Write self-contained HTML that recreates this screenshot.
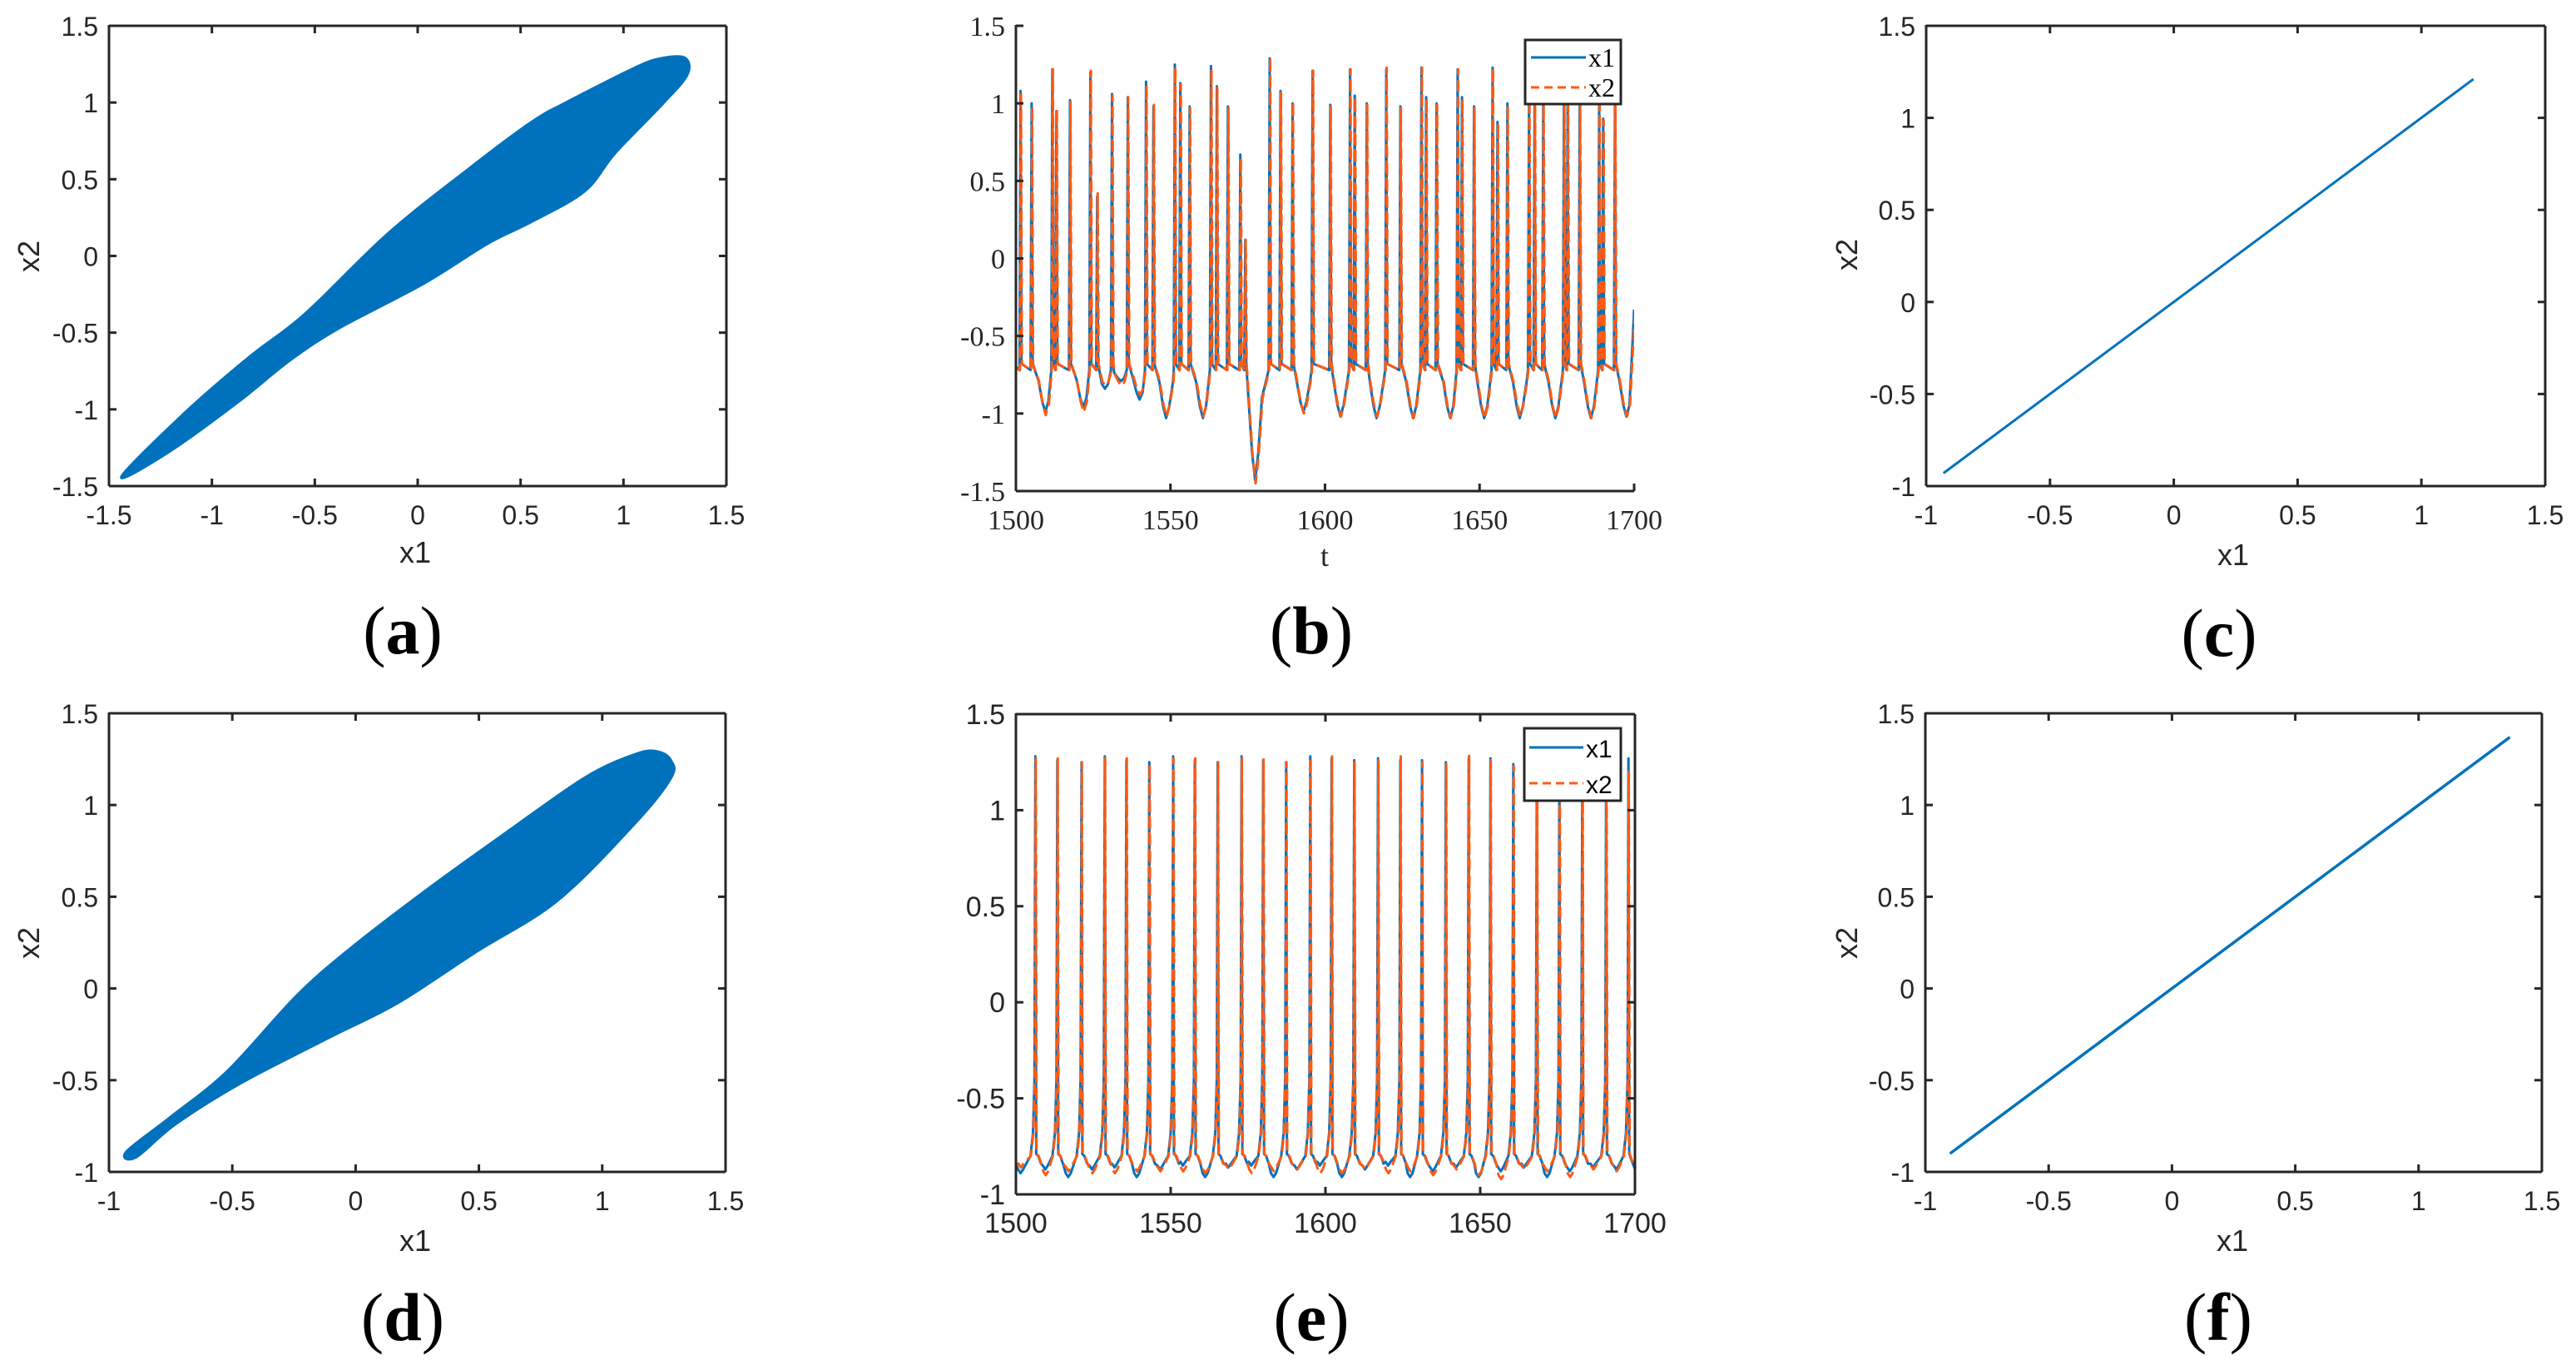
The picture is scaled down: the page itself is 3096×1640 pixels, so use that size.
<!DOCTYPE html>
<html><head><meta charset="utf-8"><style>
html,body{margin:0;padding:0;background:#fff;}
svg{display:block;}
.sans{font-family:"Liberation Sans",Arial,sans-serif;}
.serif{font-family:"Liberation Serif","Times New Roman",serif;}
</style></head><body>
<svg id="fig" xmlns="http://www.w3.org/2000/svg" width="3096" height="1640" viewBox="0 0 3096 1640">
<rect x="0" y="0" width="3096" height="1640" fill="#fff"/>
</svg>
<script>
// ---------- data ----------
const envA_x1 = [-1.44,-1.13,-0.82,-0.55,-0.15,0.24,0.55,0.72,1.06,1.19,1.30,1.31,1.19,0.96,0.81,0.55,0.34,0.03,-0.38,-0.62,-0.87,-1.20];
const envA_x2 = [-1.44,-1.02,-0.66,-0.38,0.14,0.56,0.87,1.00,1.23,1.29,1.29,1.18,0.99,0.67,0.42,0.22,0.08,-0.18,-0.47,-0.68,-0.95,-1.27];
const envD_x1 = [-0.93,-0.75,-0.52,-0.24,-0.02,0.28,0.60,0.93,1.14,1.23,1.28,1.28,1.14,0.82,0.49,0.17,-0.11,-0.47,-0.73,-0.89];
const envD_x2 = [-0.89,-0.70,-0.45,-0.04,0.22,0.53,0.84,1.15,1.28,1.29,1.24,1.15,0.91,0.48,0.20,-0.08,-0.27,-0.52,-0.74,-0.92];
const lineC_x1 = [-0.93,1.21], lineC_x2 = [-0.93,1.21];
const lineF_x1 = [-0.90,1.37], lineF_x2 = [-0.90,1.37];
const spikeB_t = [1501.5,1505.1,1511.8,1513.1,1517.5,1524.1,1526.3,1531.1,1536.2,1542.1,1544.5,1551.4,1553.2,1556.2,1563.1,1565.0,1568.6,1572.6,1574.2,1582.1,1585.6,1589.5,1596.0,1601.7,1608.1,1609.6,1613.5,1619.8,1624.4,1631.2,1632.7,1636.1,1642.9,1644.3,1648.2,1654.2,1655.8,1659.0,1666.0,1667.8,1670.6,1677.3,1678.5,1682.4,1688.7,1690.0,1693.8];
const peakB_x1 = [1.08,1.00,1.22,0.95,1.02,1.20,0.40,1.06,1.04,1.14,0.98,1.25,1.13,0.98,1.24,1.11,0.98,0.67,0.12,1.29,1.08,1.00,1.21,0.99,1.22,1.05,1.00,1.22,0.98,1.23,1.04,1.00,1.22,1.04,0.98,1.23,0.88,1.00,1.04,1.04,1.00,1.10,1.00,1.00,1.00,0.90,1.00];
const peakB_x2 = [1.07,0.98,1.22,0.96,1.01,1.21,0.42,1.05,1.04,1.12,0.99,1.23,1.12,0.97,1.22,1.10,0.97,0.65,0.12,1.30,1.07,1.01,1.21,0.98,1.22,1.04,0.99,1.23,0.97,1.23,1.03,0.99,1.22,1.03,0.97,1.23,0.87,0.99,1.03,1.03,0.99,1.09,0.99,0.99,0.99,0.89,0.99];
const troughB_t  = [1500,1509.5,1521.8,1528.8,1534.0,1540.0,1548.6,1560.5,1577.4,1593.0,1605.0,1616.7,1628.5,1640.5,1651.5,1663.0,1674.5,1686.0,1697.5,1700];
const troughB_x1 = [-0.70,-0.99,-0.96,-0.84,-0.79,-0.91,-1.03,-1.03,-1.43,-0.99,-1.02,-1.03,-1.03,-1.03,-1.03,-1.03,-1.03,-1.03,-1.02,-0.33];
const troughB_x2 = [-0.70,-1.01,-0.99,-0.82,-0.82,-0.88,-1.02,-1.02,-1.45,-1.00,-1.02,-1.02,-1.03,-1.03,-1.03,-1.02,-1.03,-1.03,-1.02,-0.37];
const spikeE_t = [1506.3,1513.4,1521.2,1528.7,1535.7,1543.1,1550.8,1557.8,1565.2,1572.9,1579.9,1587.3,1595.1,1602.0,1609.3,1617.0,1624.2,1631.2,1638.9,1646.3,1653.3,1660.7,1668.3,1675.6,1683.0,1690.7,1697.9];
const peakE_x1 = [1.28,1.26,1.25,1.28,1.26,1.25,1.28,1.26,1.25,1.28,1.26,1.25,1.28,1.27,1.26,1.27,1.26,1.26,1.25,1.27,1.27,1.24,1.27,1.26,1.27,1.26,1.27];
const peakE_x2 = [1.27,1.27,1.25,1.27,1.27,1.24,1.27,1.27,1.25,1.27,1.27,1.25,1.27,1.28,1.25,1.26,1.28,1.25,1.24,1.29,1.26,1.23,1.27,1.25,1.26,1.27,1.20];
const troughE_x1 = [-0.89,-0.87,-0.91,-0.87,-0.86,-0.91,-0.87,-0.85,-0.91,-0.86,-0.85,-0.91,-0.87,-0.85,-0.91,-0.87,-0.85,-0.91,-0.88,-0.86,-0.91,-0.88,-0.86,-0.91,-0.88,-0.86,-0.87];
const troughE_x2 = [-0.86,-0.90,-0.88,-0.89,-0.89,-0.88,-0.88,-0.88,-0.89,-0.87,-0.89,-0.88,-0.87,-0.89,-0.89,-0.87,-0.89,-0.88,-0.90,-0.87,-0.90,-0.92,-0.87,-0.88,-0.91,-0.87,-0.88];
const ticksSym = [-1.5,-1,-0.5,0,0.5,1,1.5];
const ticksPos = [-1,-0.5,0,0.5,1,1.5];
const ticksT = [1500,1550,1600,1650,1700];

// ---------- helpers ----------
const NS = 'http://www.w3.org/2000/svg';
const svg = document.getElementById('fig');
const BLUE = '#0072BD', ORANGE = '#FF5A14', AX = '#262626';
function mk(tag, attrs, name, parent, inter) {
  const el = document.createElementNS(NS, tag);
  for (const k in attrs) el.setAttribute(k, attrs[k]);
  
  
  (parent || svg).appendChild(el);
  return el;
}
function fmt(v){ return String(v); }
let clipId = 0;
function panel(cfg) {
  const g = mk('g', {}, cfg.name, svg);
  const sx = v => cfg.x0 + (v - cfg.xmin) / (cfg.xmax - cfg.xmin) * (cfg.x1 - cfg.x0);
  const sy = v => cfg.y1 - (v - cfg.ymin) / (cfg.ymax - cfg.ymin) * (cfg.y1 - cfg.y0);
  const id = 'clip' + (clipId++);
  const cp = mk('clipPath', {id: id}, cfg.name + '-clip', g);
  mk('rect', {x: cfg.x0, y: cfg.y0, width: cfg.x1 - cfg.x0, height: cfg.y1 - cfg.y0}, 'clip-rect', cp);
  const plot = mk('g', {'clip-path': 'url(#' + id + ')'}, cfg.name + '-plot-area', g);
  const axes = mk('g', {stroke: AX, 'stroke-width': 3, fill: 'none'}, cfg.name + '-axes', g);
  const fcls = cfg.serif ? 'serif' : 'sans';
  mk('line', {x1: cfg.x0, y1: cfg.y1, x2: cfg.x1, y2: cfg.y1}, 'x-axis-line', axes);
  mk('line', {x1: cfg.x0, y1: cfg.y0 - 1, x2: cfg.x0, y2: cfg.y1}, 'y-axis-line', axes);
  if (cfg.box) {
    mk('line', {x1: cfg.x0, y1: cfg.y0, x2: cfg.x1, y2: cfg.y0}, 'top-axis-line', axes);
    mk('line', {x1: cfg.x1, y1: cfg.y0, x2: cfg.x1, y2: cfg.y1}, 'right-axis-line', axes);
  }
  const tl = 9;
  cfg.xt.forEach(v => {
    const X = sx(v);
    mk('line', {x1: X, y1: cfg.y1, x2: X, y2: cfg.y1 - tl}, 'x-tick', axes);
    if (cfg.box) mk('line', {x1: X, y1: cfg.y0, x2: X, y2: cfg.y0 + tl}, 'x-tick-top', axes);
    const t = mk('text', {x: X, y: cfg.y1 + 46, 'text-anchor': 'middle', 'font-size': cfg.fs, fill: AX, class: fcls}, 'x-tick-label', g);
    t.textContent = fmt(v);
  });
  cfg.yt.forEach(v => {
    const Y = sy(v);
    mk('line', {x1: cfg.x0, y1: Y, x2: cfg.x0 + tl, y2: Y}, 'y-tick', axes);
    if (cfg.box) mk('line', {x1: cfg.x1, y1: Y, x2: cfg.x1 - tl, y2: Y}, 'y-tick-right', axes);
    const t = mk('text', {x: cfg.x0 - 13, y: Y + 12, 'text-anchor': 'end', 'font-size': cfg.fs, fill: AX, class: fcls}, 'y-tick-label', g);
    t.textContent = fmt(v);
  });
  if (cfg.xlabel) {
    const t = mk('text', {x: cfg.xlx, y: cfg.xly, 'text-anchor': 'middle', 'font-size': 36, fill: AX, class: fcls}, 'x-axis-title', g);
    t.textContent = cfg.xlabel;
  }
  if (cfg.ylabel) {
    const t = mk('text', {x: 0, y: 0, 'text-anchor': 'middle', 'font-size': 36, fill: AX, class: fcls, transform: 'translate(' + (cfg.ylx + 12) + ',' + cfg.yly + ') rotate(-90)'}, 'y-axis-title', g);
    t.textContent = cfg.ylabel;
  }
  const lab = mk('text', {x: cfg.lx, y: cfg.ly + 28, 'text-anchor': 'middle', 'font-size': 82, fill: '#000', class: 'serif'}, 'panel-label', g);
  const s1 = mk('tspan', {}, 'label-paren-open', lab); s1.textContent = '(';
  const s2 = mk('tspan', {'font-weight': 'bold'}, 'label-letter', lab); s2.textContent = cfg.letter;
  const s3 = mk('tspan', {}, 'label-paren-close', lab); s3.textContent = ')';
  return {g, plot, sx, sy};
}
function polyPts(xs, ys, P){ return xs.map((v,i) => P.sx(v).toFixed(1) + ',' + P.sy(ys[i]).toFixed(1)).join(' '); }
function smoothClosed(xs, ys, P) {
  const p = xs.map((v,i) => [P.sx(v), P.sy(ys[i])]);
  const n = p.length;
  let d = 'M' + p[0][0].toFixed(1) + ',' + p[0][1].toFixed(1);
  for (let i = 0; i < n; i++) {
    const p0 = p[(i - 1 + n) % n], p1 = p[i], p2 = p[(i + 1) % n], p3 = p[(i + 2) % n];
    const c1 = [p1[0] + (p2[0] - p0[0]) / 6, p1[1] + (p2[1] - p0[1]) / 6];
    const c2 = [p2[0] - (p3[0] - p1[0]) / 6, p2[1] - (p3[1] - p1[1]) / 6];
    d += 'C' + c1[0].toFixed(1) + ',' + c1[1].toFixed(1) + ' ' + c2[0].toFixed(1) + ',' + c2[1].toFixed(1) + ' ' + p2[0].toFixed(1) + ',' + p2[1].toFixed(1);
  }
  return d + 'Z';
}

function seriesB(peaks, troughs) {
  const pts = [];
  troughB_t.forEach((t,i) => {
    const v = troughs[i];
    pts.push([t, v]);
    const depth = Math.max(0, -0.72 - v);
    if (depth <= 0) return;
    const prevS = Math.max(...spikeB_t.filter(s => s < t), 1400);
    const nextS = Math.min(...spikeB_t.filter(s => s > t), 1800);
    [[-2.2,0.75],[-1.0,0.25],[1.0,0.25],[2.2,0.75]].forEach(o => {
      const tt = t + o[0];
      if (tt > prevS + 0.6 && tt < nextS - 0.6 && tt > 1500 && tt < 1699) pts.push([tt, v + depth * o[1]]);
    });
  });
  spikeB_t.forEach((t,i) => {
    pts.push([t - 0.35, -0.72]);
    pts.push([t, peaks[i]]);
    pts.push([t + 0.3, -0.68]);
  });
  pts.sort((a,b) => a[0] - b[0]);
  return pts;
}
function seriesE(peaks, troughs) {
  const pts = [[1500, -0.84]];
  spikeE_t.forEach((t,i) => {
    const prev = i === 0 ? 1500 : spikeE_t[i-1];
    const tm = i === 0 ? 1501.5 : prev + (t - prev) * 0.45;
    if (i > 0) { pts.push([prev + 0.9, -0.80]); pts.push([prev + 1.8, -0.84]); }
    pts.push([tm - 0.8, troughs[i] + 0.02]);
    pts.push([tm, troughs[i]]);
    pts.push([tm + 0.8, troughs[i] + 0.02]);
    pts.push([t - 1.6, -0.80]);
    pts.push([t - 0.8, -0.68]);
    pts.push([t - 0.3, -0.40]);
    pts.push([t, peaks[i]]);
    pts.push([t + 0.25, -0.79]);
  });
  pts.push([1700, -0.87]);
  return pts;
}
function tsPts(pts, P, dt){ return pts.map(p => P.sx(p[0] + (dt||0)).toFixed(1) + ',' + P.sy(p[1]).toFixed(1)).join(' '); }

// ---------- panel a ----------
const A = panel({name:'panel-a', letter:'a', x0:131, x1:873, y0:31, y1:584, xmin:-1.5, xmax:1.5, ymin:-1.5, ymax:1.5, xt:ticksSym, yt:ticksSym, box:true, fs:32, xlabel:'x1', ylabel:'x2', xlx:499, xly:676, ylx:35, yly:308, lx:484, ly:757});
mk('path', {d: smoothClosed(envA_x1, envA_x2, A), fill: BLUE, stroke: BLUE, 'stroke-width': 3, 'stroke-linejoin': 'round'}, 'attractor-a', A.plot);

// ---------- panel b ----------
const B = panel({name:'panel-b', letter:'b', x0:1221, x1:1964, y0:31, y1:590, xmin:1500, xmax:1700, ymin:-1.5, ymax:1.5, xt:ticksT, yt:ticksSym, box:false, serif:true, fs:34, xlabel:'t', xlx:1592, xly:680, lx:1576, ly:757});
mk('polyline', {points: tsPts(seriesB(peakB_x1, troughB_x1), B), fill:'none', stroke: BLUE, 'stroke-width': 3, 'stroke-linejoin': 'round'}, 'series-x1', B.plot);
mk('polyline', {points: tsPts(seriesB(peakB_x2, troughB_x2), B, 0.15), fill:'none', stroke: ORANGE, 'stroke-width': 3, 'stroke-dasharray': '14 6', 'stroke-linejoin': 'round'}, 'series-x2', B.plot);
{
  const lg = mk('g', {}, 'legend-b', B.g);
  mk('rect', {x:1833, y:48, width:115, height:77, fill:'#fff', stroke: AX, 'stroke-width': 3}, 'legend-box', lg);
  mk('line', {x1:1840, y1:69, x2:1906, y2:69, stroke: BLUE, 'stroke-width': 3}, 'legend-swatch-x1', lg);
  mk('line', {x1:1840, y1:105, x2:1906, y2:105, stroke: ORANGE, 'stroke-width': 3, 'stroke-dasharray': '10 6'}, 'legend-swatch-x2', lg);
  const t1 = mk('text', {x:1909, y:80, 'font-size':32, class:'serif', fill:'#000'}, 'legend-entry-x1', lg); t1.textContent = 'x1';
  const t2 = mk('text', {x:1909, y:116, 'font-size':32, class:'serif', fill:'#000'}, 'legend-entry-x2', lg); t2.textContent = 'x2';
}

// ---------- panel c ----------
const C = panel({name:'panel-c', letter:'c', x0:2315, x1:3059, y0:31, y1:584, xmin:-1, xmax:1.5, ymin:-1, ymax:1.5, xt:ticksPos, yt:ticksPos, box:true, fs:32, xlabel:'x1', ylabel:'x2', xlx:2684, xly:679, ylx:2220, yly:306, lx:2667, ly:760});
mk('polyline', {points: polyPts(lineC_x1, lineC_x2, C), fill:'none', stroke: BLUE, 'stroke-width': 3}, 'sync-line-c', C.plot);

// ---------- panel d ----------
const D = panel({name:'panel-d', letter:'d', x0:131, x1:872, y0:857, y1:1408, xmin:-1, xmax:1.5, ymin:-1, ymax:1.5, xt:ticksPos, yt:ticksPos, box:true, fs:32, xlabel:'x1', ylabel:'x2', xlx:499, xly:1503, ylx:35, yly:1133, lx:484, ly:1582});
mk('path', {d: smoothClosed(envD_x1, envD_x2, D), fill: BLUE, stroke: BLUE, 'stroke-width': 3, 'stroke-linejoin': 'round'}, 'attractor-d', D.plot);

// ---------- panel e ----------
const E = panel({name:'panel-e', letter:'e', x0:1221, x1:1965, y0:858, y1:1435, xmin:1500, xmax:1700, ymin:-1, ymax:1.5, xt:ticksT, yt:ticksPos, box:true, fs:34, lx:1576, ly:1582});
mk('polyline', {points: tsPts(seriesE(peakE_x1, troughE_x1), E), fill:'none', stroke: BLUE, 'stroke-width': 3, 'stroke-linejoin': 'round'}, 'series-x1', E.plot);
mk('polyline', {points: tsPts(seriesE(peakE_x2, troughE_x2), E, 0.12), fill:'none', stroke: ORANGE, 'stroke-width': 3, 'stroke-dasharray': '14 6', 'stroke-linejoin': 'round'}, 'series-x2', E.plot);
{
  const lg = mk('g', {}, 'legend-e', E.g);
  mk('rect', {x:1832, y:875, width:116, height:87, fill:'#fff', stroke: AX, 'stroke-width': 3}, 'legend-box', lg);
  mk('line', {x1:1838, y1:898, x2:1903, y2:898, stroke: BLUE, 'stroke-width': 3}, 'legend-swatch-x1', lg);
  mk('line', {x1:1838, y1:941, x2:1903, y2:941, stroke: ORANGE, 'stroke-width': 3, 'stroke-dasharray': '10 6'}, 'legend-swatch-x2', lg);
  const t1 = mk('text', {x:1906, y:910, 'font-size':30, class:'sans', fill:'#000'}, 'legend-entry-x1', lg); t1.textContent = 'x1';
  const t2 = mk('text', {x:1906, y:953, 'font-size':30, class:'sans', fill:'#000'}, 'legend-entry-x2', lg); t2.textContent = 'x2';
}

// ---------- panel f ----------
const F = panel({name:'panel-f', letter:'f', x0:2314, x1:3055, y0:857, y1:1408, xmin:-1, xmax:1.5, ymin:-1, ymax:1.5, xt:ticksPos, yt:ticksPos, box:true, fs:32, xlabel:'x1', ylabel:'x2', xlx:2683, xly:1503, ylx:2220, yly:1133, lx:2666, ly:1582});
mk('polyline', {points: polyPts(lineF_x1, lineF_x2, F), fill:'none', stroke: BLUE, 'stroke-width': 3.5}, 'sync-line-f', F.plot);
</script>
</body></html>
